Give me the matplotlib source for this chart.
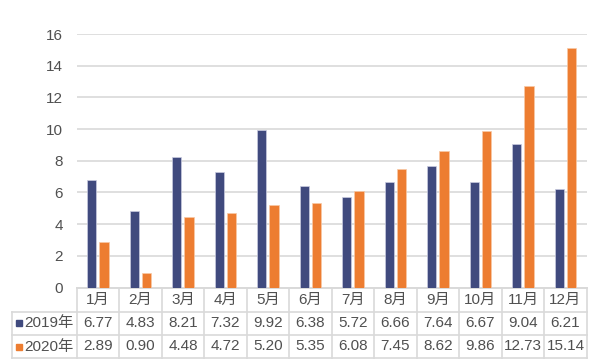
import matplotlib.pyplot as plt
import matplotlib.transforms as mtransforms
import numpy as np

plt.rcParams["font.family"] = ["Liberation Sans", "Noto Sans CJK SC", "DejaVu Sans"]

months = ["1月", "2月", "3月", "4月", "5月", "6月", "7月", "8月", "9月", "10月", "11月", "12月"]
series_names = ["2019年", "2020年"]
values_2019 = [6.77, 4.83, 8.21, 7.32, 9.92, 6.38, 5.72, 6.66, 7.64, 6.67, 9.04, 6.21]
values_2020 = [2.89, 0.90, 4.48, 4.72, 5.20, 5.35, 6.08, 7.45, 8.62, 9.86, 12.73, 15.14]
yticks = [0, 2, 4, 6, 8, 10, 12, 14, 16]

NAVY = "#404A7E"
ORANGE = "#ED7D31"
TEXT = "#505050"
GRID = "#D9D9D9"

W, H = 600, 364
fig = plt.figure(figsize=(6, 3.64), dpi=100)
left_px, right_px, top_px, bottom_px = 76.7, 586.7, 34.0, 287.5
ax = fig.add_axes([left_px / W, 1 - bottom_px / H, (right_px - left_px) / W, (bottom_px - top_px) / H])

x = np.arange(len(months))
bw = 0.22
gap = 0.035
ax.bar(x - bw / 2 - gap, values_2019, bw, color=NAVY, edgecolor="#C9CBE0", linewidth=0.5, zorder=3)
ax.bar(x + bw / 2 + gap, values_2020, bw, color=ORANGE, edgecolor="#F8C9A6", linewidth=0.5, zorder=3)

ax.set_xlim(-0.5, len(months) - 0.5)
ax.set_ylim(0, 16)
ax.set_yticks(yticks)
ax.set_yticklabels([str(t) for t in yticks], fontsize=11, color=TEXT)
ax.set_xticks([])
ax.tick_params(axis="y", length=0, pad=10)
ax.yaxis.grid(True, color=GRID, linewidth=1.2, zorder=0)
for s in ["top", "right", "left"]:
    ax.spines[s].set_visible(False)
ax.spines["bottom"].set_color(GRID)
ax.spines["bottom"].set_linewidth(1.2)

# data table under the chart
ax_h = bottom_px - top_px
row_edges_px = [287.5, 311.7, 335.0, 358.0]
row_y = [-(r - bottom_px) / ax_h for r in row_edges_px]
trans = mtransforms.blended_transform_factory(ax.transData, ax.transAxes)
label_left = -0.5 - (left_px - 11.7) / ((right_px - left_px) / len(months))

line_kw = dict(color=GRID, linewidth=1.2, transform=trans, clip_on=False)
# horizontals
ax.plot([-0.5, len(months) - 0.5], [row_y[0], row_y[0]], **line_kw)
for yy in row_y[1:]:
    ax.plot([label_left, len(months) - 0.5], [yy, yy], **line_kw)
# verticals
for i in range(len(months) + 1):
    ax.plot([i - 0.5, i - 0.5], [row_y[0], row_y[3]], **line_kw)
ax.plot([label_left, label_left], [row_y[1], row_y[3]], **line_kw)

txt_kw = dict(transform=trans, ha="center", va="center", fontsize=11, color=TEXT, clip_on=False)
mid = [(row_y[k] + row_y[k + 1]) / 2 for k in range(3)]
for i, m in enumerate(months):
    ax.text(i, mid[0], m, **txt_kw)
    ax.text(i, mid[1], f"{values_2019[i]:.2f}", **txt_kw)
    ax.text(i, mid[2], f"{values_2020[i]:.2f}", **txt_kw)

for k, (name, col) in enumerate(zip(series_names, [NAVY, ORANGE])):
    ax.plot([label_left + 0.18], [mid[k + 1]], marker="s", markersize=5, color=col,
            transform=trans, clip_on=False)
    ax.text(label_left + 0.3, mid[k + 1], name, transform=trans, ha="left", va="center",
            fontsize=11, color=TEXT, clip_on=False)

fig.savefig("out.png", dpi=100)
